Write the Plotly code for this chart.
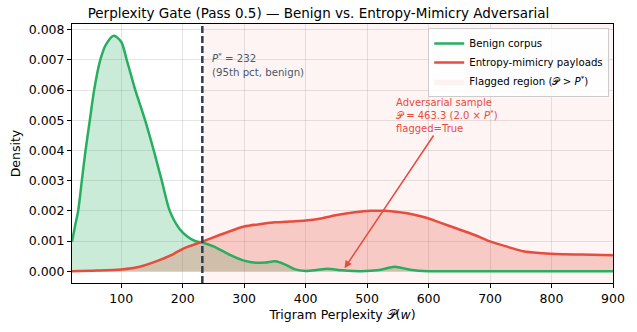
import plotly.graph_objects as go

# Density estimates (perplexity -> density)
benign_x = [20, 25, 30, 36, 42, 49, 56, 66, 75, 88, 100, 109, 116, 123, 139, 153, 166, 179,
            195, 208, 220, 232, 250, 276, 300, 319, 335, 351, 367, 383, 400, 418, 435, 460,
            490, 520, 545, 570, 600, 650, 700, 750, 800, 850, 900]
benign_y = [0.00098, 0.0015, 0.0020, 0.0030, 0.0040, 0.0050, 0.0060, 0.0070, 0.0075, 0.0078,
            0.0076, 0.0070, 0.0065, 0.0060, 0.0050, 0.0040, 0.0030, 0.0020, 0.0014, 0.00114,
            0.0010, 0.00095, 0.00082, 0.00055, 0.00035, 0.00028, 0.00029, 0.00033, 0.00022,
            0.00006, 0.00001, 0.00004, 0.00008, 0.00003, 0.0, 0.00004, 0.00015, 0.00005, 0.0,
            0.0, 0.0, 0.0, 0.0, 0.0, 0.0]

adv_x = [20, 60, 100, 130, 160, 185, 202, 232, 260, 287, 300, 325, 351, 375, 400, 425, 451,
         480, 505, 530, 553, 575, 595, 620, 648, 675, 701, 730, 754, 780, 807, 850, 900]
adv_y = [0.0, 0.00002, 0.00006, 0.00015, 0.00035, 0.00057, 0.00076, 0.00098, 0.0012, 0.0014,
         0.00148, 0.00156, 0.00162, 0.00165, 0.00168, 0.00175, 0.00186, 0.00195, 0.0020,
         0.0020, 0.00195, 0.00188, 0.00178, 0.0016, 0.0014, 0.0012, 0.00098, 0.0008, 0.00066,
         0.0006, 0.00057, 0.00055, 0.00053]

threshold = 232
sample_ppl = 463.3
sample_density = 0.0001
x_range = [20, 900]
y_range = [-0.00039, 0.00819]
x_ticks = [100, 200, 300, 400, 500, 600, 700, 800, 900]
y_ticks = [0.000, 0.001, 0.002, 0.003, 0.004, 0.005, 0.006, 0.007, 0.008]

GREEN = "#27ae60"
RED = "#e74c3c"
DARK = "#2c3e50"
FONT = "DejaVu Sans"

fig = go.Figure()

# Flagged region shading
fig.add_trace(go.Scatter(
    x=[threshold, x_range[1], x_range[1], threshold, threshold],
    y=[y_range[0], y_range[0], y_range[1], y_range[1], y_range[0]],
    fill="toself", fillcolor="rgba(231,76,60,0.06)", line=dict(width=0),
    mode="lines", name="Flagged region (𝒫 > <i>P</i><sup>*</sup>)",
    hoverinfo="skip", legendrank=3))

# Filled areas under the curves
fig.add_trace(go.Scatter(x=benign_x, y=benign_y, mode="lines", line=dict(width=0, shape="spline", smoothing=0.8),
                         fill="tozeroy", fillcolor="rgba(39,174,96,0.25)", showlegend=False, hoverinfo="skip"))
fig.add_trace(go.Scatter(x=adv_x, y=adv_y, mode="lines", line=dict(width=0, shape="spline", smoothing=0.8),
                         fill="tozeroy", fillcolor="rgba(231,76,60,0.25)", showlegend=False, hoverinfo="skip"))

# Density curves
fig.add_trace(go.Scatter(x=benign_x, y=benign_y, mode="lines", name="Benign corpus",
                         line=dict(color=GREEN, width=2.5, shape="spline", smoothing=0.8), legendrank=1))
fig.add_trace(go.Scatter(x=adv_x, y=adv_y, mode="lines", name="Entropy-mimicry payloads",
                         line=dict(color=RED, width=2.5, shape="spline", smoothing=0.8), legendrank=2))

# Threshold line
fig.add_shape(type="line", x0=threshold, x1=threshold, y0=0, y1=1, xref="x", yref="paper",
              line=dict(color=DARK, width=2.5, dash="7px,3px"))

fig.add_annotation(x=threshold + 12, y=0.00735, xref="x", yref="y", xanchor="left", yanchor="top",
                   text="<i>P</i><sup>*</sup> = 232<br>(95th pct, benign)", showarrow=False, align="left",
                   font=dict(family=FONT, size=10.2, color="#4a5868"))

fig.add_annotation(x=sample_ppl, y=sample_density, xref="x", yref="y",
                   ax=630, ay=0.00516, axref="x", ayref="y",
                   text="Adversarial sample<br>𝒫 = 463.3 (2.0 × <i>P</i><sup>*</sup>)<br>flagged=True",
                   align="left", showarrow=True, arrowhead=2, arrowsize=1, arrowwidth=1.5,
                   arrowcolor=RED, font=dict(family=FONT, size=10, color=RED))

axis_common = dict(showline=True, linecolor="black", linewidth=1, mirror=True,
                   ticks="outside", ticklen=4, tickcolor="black",
                   showgrid=True, gridcolor="rgba(0,0,0,0.1)", gridwidth=1, zeroline=False,
                   tickfont=dict(family=FONT, size=12.5, color="black"))

fig.update_xaxes(range=x_range, tickvals=x_ticks,
                 title=dict(text="Trigram Perplexity 𝒫(<i>w</i>)", font=dict(family=FONT, size=12.5, color="black"), standoff=5),
                 **axis_common)
fig.update_yaxes(range=y_range, tickvals=y_ticks, tickformat=".3f",
                 title=dict(text="Density", font=dict(family=FONT, size=12.5, color="black"), standoff=5),
                 **axis_common)

fig.update_layout(
    width=637, height=332,
    margin=dict(l=72, r=12, t=24, b=42),
    paper_bgcolor="white", plot_bgcolor="white",
    title=dict(text="Perplexity Gate (Pass 0.5) — Benign vs. Entropy-Mimicry Adversarial",
               x=0.5, xanchor="center", y=0.975, yanchor="top",
               font=dict(family=FONT, size=13.5, color="black")),
    legend=dict(x=0.993, y=0.985, xanchor="right", yanchor="top", bgcolor="rgba(255,255,255,0.85)",
                bordercolor="#cccccc", borderwidth=1, font=dict(family=FONT, size=10.2, color="black"),
                tracegroupgap=0, itemwidth=30),
    showlegend=True,
)

fig.write_html("out.html")
